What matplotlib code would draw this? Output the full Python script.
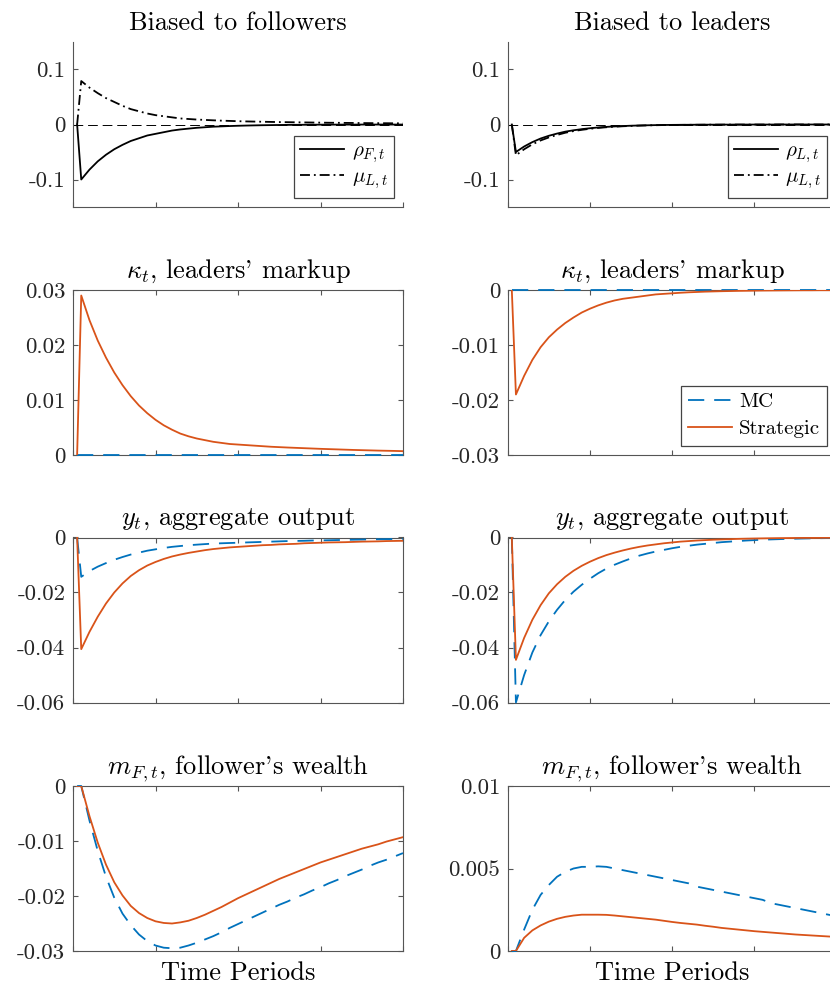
import numpy as np
import matplotlib
matplotlib.use('Agg')
import matplotlib.pyplot as plt
from matplotlib.ticker import FuncFormatter, NullFormatter

plt.rcParams.update({
    'font.family': ['cmr10', 'DejaVu Serif'],
    'mathtext.fontset': 'cm',
    'axes.unicode_minus': False,
    'axes.formatter.use_mathtext': True,
})

# ---------------- data ----------------
periods = np.array([1] + list(range(2, 81, 2)))

# Row 1: shocks
rho_F_fol = [0, -0.100, -0.082, -0.067, -0.055, -0.045, -0.037, -0.030, -0.025, -0.020, -0.017,
             -0.014, -0.011, -0.009, -0.0075, -0.006, -0.005, -0.004, -0.0034, -0.0028, -0.0023,
             -0.0019, -0.0016, -0.0013, -0.0011, -0.0009, -0.0007, -0.0006, -0.0005, -0.0004, -0.0003,
             -0.0003, -0.0002, -0.0002, -0.0002, -0.0001, -0.0001, -0.0001, -0.0001, -0.0001, -0.0001]
mu_L_fol = [0, 0.079, 0.067, 0.057, 0.048, 0.041, 0.034, 0.028, 0.024, 0.020, 0.017,
            0.015, 0.013, 0.011, 0.010, 0.009, 0.0083, 0.0076, 0.0070, 0.0065, 0.0060,
            0.0056, 0.0053, 0.0050, 0.0047, 0.0044, 0.0042, 0.0040, 0.0038, 0.0036, 0.0034,
            0.0032, 0.0031, 0.0029, 0.0028, 0.0026, 0.0025, 0.0024, 0.0023, 0.0022, 0.0021]
rho_L_lead = [0, -0.050, -0.040, -0.032, -0.0255, -0.0205, -0.0165, -0.013, -0.0105, -0.0085, -0.0068,
              -0.0054, -0.0043, -0.0035, -0.0028, -0.0022, -0.0018, -0.0014, -0.0011, -0.0009, -0.0007,
              -0.0006, -0.0005, -0.0004, -0.0003, -0.0003, -0.0002, -0.0002, -0.0001, -0.0001, -0.0001,
              -0.0001, -0.0001, 0, 0, 0, 0, 0, 0, 0, 0]
mu_L_lead = [0, -0.056, -0.045, -0.036, -0.029, -0.0235, -0.019, -0.015, -0.012, -0.0097, -0.0078,
             -0.0062, -0.005, -0.004, -0.0032, -0.0026, -0.002, -0.0016, -0.0013, -0.001, -0.0008,
             -0.0007, -0.0006, -0.0005, -0.0004, -0.0003, -0.0003, -0.0002, -0.0002, -0.0002, -0.0001,
             -0.0001, -0.0001, 0, 0, 0, 0, 0, 0, 0, 0]

# Row 2: kappa (leaders' markup)
kappa_mc_fol = [0.0] * 41
kappa_st_fol = [0, 0.0290, 0.0245, 0.0208, 0.0177, 0.0150, 0.0127, 0.0107, 0.0090, 0.0076, 0.0064,
                0.0054, 0.0046, 0.0039, 0.0034, 0.0030, 0.0027, 0.0024, 0.0022, 0.0020, 0.0019,
                0.0018, 0.0017, 0.0016, 0.0015, 0.00143, 0.00136, 0.0013, 0.00124, 0.00118, 0.00112,
                0.00107, 0.00102, 0.00097, 0.00092, 0.00088, 0.00084, 0.0008, 0.00077, 0.00074, 0.0007]
kappa_mc_lead = [0.0] * 41
kappa_st_lead = [0, -0.0190, -0.0156, -0.0127, -0.0104, -0.0086, -0.0072, -0.0060, -0.0050, -0.0041, -0.0034,
                 -0.0028, -0.0023, -0.0019, -0.0016, -0.0014, -0.0012, -0.0010, -0.0008, -0.0007, -0.0006,
                 -0.0005, -0.00042, -0.00036, -0.0003, -0.00026, -0.00022, -0.00019, -0.00016, -0.00014, -0.00012,
                 -0.0001, -0.00009, -0.00008, -0.00007, -0.00006, -0.00005, -0.00005, -0.00004, -0.00004, -0.00003]

# Row 3: aggregate output
y_mc_fol = [0, -0.0143, -0.0122, -0.0106, -0.0093, -0.0081, -0.0071, -0.0062, -0.0055, -0.0048, -0.0043,
            -0.0038, -0.0034, -0.0031, -0.0028, -0.0026, -0.0024, -0.0022, -0.0021, -0.0020, -0.0019,
            -0.0018, -0.0017, -0.0016, -0.0015, -0.0014, -0.0013, -0.00125, -0.0012, -0.0011, -0.00105,
            -0.0010, -0.00093, -0.00087, -0.0008, -0.00075, -0.0007, -0.00065, -0.0006, -0.00055, -0.0005]
y_st_fol = [0, -0.0406, -0.0343, -0.0288, -0.0240, -0.0200, -0.0167, -0.0140, -0.0119, -0.0102, -0.0089,
            -0.0078, -0.0069, -0.0062, -0.0056, -0.0051, -0.0046, -0.0042, -0.0039, -0.0036, -0.0034,
            -0.0032, -0.0030, -0.0028, -0.0027, -0.0025, -0.0024, -0.0023, -0.0021, -0.0020, -0.0019,
            -0.0018, -0.00175, -0.0017, -0.0016, -0.0015, -0.00145, -0.0014, -0.0013, -0.00125, -0.0012]
y_mc_lead = [0, -0.0600, -0.0500, -0.0418, -0.0355, -0.0305, -0.0263, -0.0227, -0.0197, -0.0172, -0.0150,
             -0.0130, -0.0113, -0.0099, -0.0087, -0.0076, -0.0066, -0.0058, -0.0051, -0.0045, -0.0039,
             -0.0034, -0.0030, -0.0026, -0.0023, -0.0020, -0.0017, -0.0015, -0.0013, -0.0011, -0.00095,
             -0.0008, -0.0007, -0.0006, -0.0005, -0.00043, -0.00036, -0.0003, -0.00025, -0.0002, -0.00016]
y_st_lead = [0, -0.0445, -0.0365, -0.0299, -0.0246, -0.0203, -0.0170, -0.0143, -0.0121, -0.0103, -0.0088,
             -0.0075, -0.0064, -0.0055, -0.0047, -0.0040, -0.0034, -0.0029, -0.0025, -0.0021, -0.0018,
             -0.0015, -0.0013, -0.0011, -0.00095, -0.0008, -0.0007, -0.0006, -0.0005, -0.00043, -0.00037,
             -0.00032, -0.00027, -0.00023, -0.0002, -0.00017, -0.00015, -0.00013, -0.00011, -0.0001, -0.00009]

# Row 4: follower's wealth
m_mc_fol = [0, 0, -0.0063, -0.0118, -0.0165, -0.0203, -0.0232, -0.0253, -0.0270, -0.0282, -0.0290,
            -0.0294, -0.0295, -0.0294, -0.0290, -0.0285, -0.0279, -0.0273, -0.0266, -0.0258, -0.0251,
            -0.0244, -0.0237, -0.0230, -0.0223, -0.0216, -0.0210, -0.0203, -0.0197, -0.0190, -0.0184,
            -0.0177, -0.0171, -0.0164, -0.0158, -0.0152, -0.0145, -0.0139, -0.0134, -0.0128, -0.0122]
m_st_fol = [0, 0, -0.0055, -0.0103, -0.0143, -0.0175, -0.0199, -0.0218, -0.0231, -0.0240, -0.0246,
            -0.0249, -0.0250, -0.0248, -0.0245, -0.0240, -0.0234, -0.0227, -0.0220, -0.0212, -0.0204,
            -0.0197, -0.0190, -0.0183, -0.0176, -0.0169, -0.0163, -0.0157, -0.0151, -0.0145, -0.0139,
            -0.0134, -0.0129, -0.0124, -0.0119, -0.0114, -0.0110, -0.0106, -0.0101, -0.0097, -0.0093]
m_mc_lead = [0, 0, 0.0013, 0.0025, 0.0034, 0.0040, 0.0045, 0.0048, 0.0050, 0.0051, 0.0051,
             0.00513, 0.0051, 0.0050, 0.0049, 0.0048, 0.0047, 0.0046, 0.0045, 0.0044, 0.0043,
             0.0042, 0.0041, 0.0039, 0.0038, 0.0037, 0.0036, 0.0035, 0.0034, 0.0033, 0.0032,
             0.0031, 0.0029, 0.0028, 0.0027, 0.0026, 0.0025, 0.0024, 0.0023, 0.0022, 0.0021]
m_st_lead = [0, 0, 0.0008, 0.00125, 0.00155, 0.00178, 0.00195, 0.00207, 0.00215, 0.0022, 0.0022,
             0.0022, 0.00219, 0.00215, 0.0021, 0.00205, 0.0020, 0.00195, 0.0019, 0.00183, 0.00176,
             0.0017, 0.00165, 0.0016, 0.00153, 0.00147, 0.0014, 0.00135, 0.0013, 0.00125, 0.0012,
             0.00116, 0.00112, 0.00108, 0.00104, 0.0010, 0.00097, 0.00094, 0.00091, 0.00088, 0.00085]

col_titles = ['Biased to followers', 'Biased to leaders']
row_titles = [r"$\kappa_t$, leaders' markup", r"$y_t$, aggregate output", r"$m_{F,t}$, follower's wealth"]
legend_fol = [r'$\rho_{F,t}$', r'$\mu_{L,t}$']
legend_lead = [r'$\rho_{L,t}$', r'$\mu_{L,t}$']
series_names = ['MC', 'Strategic']
xlabel_text = 'Time Periods'

# ---------------- style ----------------
BLUE = '#0072BD'
ORANGE = '#D95319'
SPINE = '#555555'
TICKLBL = '#262626'
W, H = 830, 988

fig = plt.figure(figsize=(W / 100, H / 100), dpi=100)

col_x = [73, 507.7]
col_w = [330, 329]
row_top = [42, 290, 537.5, 786]
ax_h = 165

def make_ax(r, c):
    x0 = col_x[c] / W
    y0 = 1 - (row_top[r] + ax_h) / H
    return fig.add_axes([x0, y0, col_w[c] / W, ax_h / H])

def style(ax, box=True):
    for s in ax.spines.values():
        s.set_color(SPINE)
        s.set_linewidth(0.8)
    if not box:
        ax.spines['top'].set_visible(False)
        ax.spines['right'].set_visible(False)
    ax.tick_params(direction='in', length=3.5, width=0.8, color=SPINE,
                   labelsize=16.5, labelcolor=TICKLBL, pad=5.5,
                   top=box, right=box)
    ax.set_xlim(0, 80)
    ax.set_xticks([0, 20, 40, 60, 80])
    ax.xaxis.set_major_formatter(NullFormatter())
    ax.yaxis.set_major_formatter(FuncFormatter(lambda v, p: '%g' % round(v, 6)))

title_kw = dict(fontsize=19, pad=9)
leg_kw = dict(loc='lower right', fontsize=15, frameon=True, fancybox=False,
              edgecolor='#444444', framealpha=1, borderaxespad=0.45,
              handlelength=2.1, handletextpad=0.35, labelspacing=0.15, borderpad=0.3)

# Row 1
row1 = [(rho_F_fol, mu_L_fol, legend_fol), (rho_L_lead, mu_L_lead, legend_lead)]
for c, (rho, mu, labs) in enumerate(row1):
    ax = make_ax(0, c)
    style(ax, box=False)
    ax.axhline(0, color='k', lw=0.7, dashes=(10, 5))
    l1, = ax.plot(periods, rho, color='k', lw=1.3)
    l2, = ax.plot(periods, mu, color='k', lw=1.3, ls=(0, (5.5, 2.2, 1, 2.2)))
    ax.set_ylim(-0.15, 0.15)
    ax.set_yticks([-0.1, 0, 0.1])
    ax.set_title(col_titles[c], **title_kw)
    leg = ax.legend([l1, l2], labs, **leg_kw)
    leg.get_frame().set_linewidth(0.9)

# Rows 2-4
rows = [
    ((kappa_mc_fol, kappa_st_fol, (0, 0.03), [0, 0.01, 0.02, 0.03]),
     (kappa_mc_lead, kappa_st_lead, (-0.03, 0), [-0.03, -0.02, -0.01, 0])),
    ((y_mc_fol, y_st_fol, (-0.06, 0), [-0.06, -0.04, -0.02, 0]),
     (y_mc_lead, y_st_lead, (-0.06, 0), [-0.06, -0.04, -0.02, 0])),
    ((m_mc_fol, m_st_fol, (-0.03, 0), [-0.03, -0.02, -0.01, 0]),
     (m_mc_lead, m_st_lead, (0, 0.01), [0, 0.005, 0.01])),
]
for r, pair in enumerate(rows, start=1):
    for c, (mc, st, ylim, yt) in enumerate(pair):
        ax = make_ax(r, c)
        style(ax, box=True)
        lmc, = ax.plot(periods, mc, color=BLUE, lw=1.3, dashes=(9, 5.5), clip_on=False, zorder=3)
        lst, = ax.plot(periods, st, color=ORANGE, lw=1.3, zorder=4)
        ax.set_ylim(*ylim)
        ax.set_yticks(yt)
        ax.set_title(row_titles[r - 1], **title_kw)
        if r == 1 and c == 1:
            kw = dict(leg_kw, labelspacing=0.4, borderpad=0.35)
            leg = ax.legend([lmc, lst], series_names, **kw)
            leg.get_frame().set_linewidth(0.9)
        if r == 3:
            ax.set_xlabel(xlabel_text, fontsize=19, labelpad=2)

fig.savefig('out.png', dpi=100)
